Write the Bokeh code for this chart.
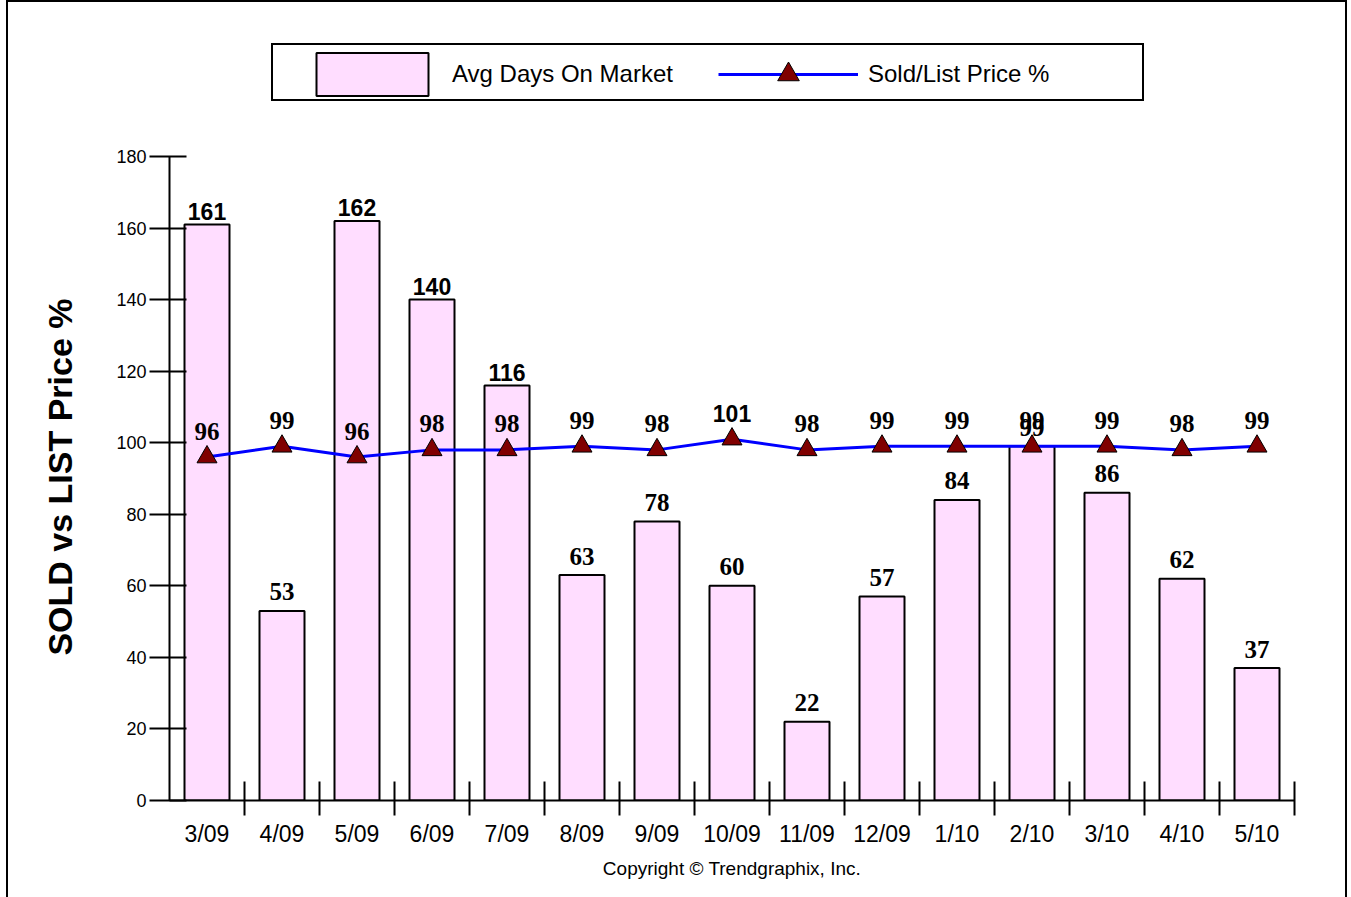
from bokeh.plotting import figure
from bokeh.models import (Range1d, FixedTicker, ColumnDataSource, Legend,
                          LegendItem, Title)
from bokeh.embed import file_html
from bokeh.resources import INLINE

months = ["3/09", "4/09", "5/09", "6/09", "7/09", "8/09", "9/09", "10/09",
          "11/09", "12/09", "1/10", "2/10", "3/10", "4/10", "5/10"]
avg_days = [161, 53, 162, 140, 116, 63, 78, 60, 22, 57, 84, 99, 86, 62, 37]
sold_list_pct = [96, 99, 96, 98, 98, 99, 98, 101, 98, 99, 99, 99, 99, 98, 99]
y_ticks = [0, 20, 40, 60, 80, 100, 120, 140, 160, 180]

n = len(months)
centers = [i + 0.5 for i in range(n)]
bounds = [i + 1 for i in range(n)]

PX_PER_UNIT = 644 / 180.0
FRAME_H = 798
Y_TOP = FRAME_H / PX_PER_UNIT

def fonts(vals):
    return ["Liberation Sans" if len(str(v)) > 2 else "Liberation Serif" for v in vals]

def sizes(vals):
    return ["23px" if len(str(v)) > 2 else "25px" for v in vals]

bar_src = ColumnDataSource(dict(x=centers, top=avg_days,
                                lab=[str(v) for v in avg_days],
                                font=fonts(avg_days), fs=sizes(avg_days),
                                yo=[-13 if len(str(v)) > 2 else -19 for v in avg_days]))
line_src = ColumnDataSource(dict(x=centers, y=sold_list_pct,
                                 lab=[str(v) for v in sold_list_pct],
                                 font=fonts(sold_list_pct), fs=sizes(sold_list_pct)))

p = figure(frame_width=1125, frame_height=FRAME_H,
           min_border_left=161, min_border_right=51,
           min_border_top=0, min_border_bottom=97,
           x_range=Range1d(0, n), y_range=Range1d(0, Y_TOP),
           output_backend="svg", toolbar_location=None, tools="",
           styles={"margin-left": "6px", "border-left": "2px solid black",
                   "border-right": "2px solid black",
                   "border-top": "2px solid black"})
p.outline_line_color = None
p.grid.visible = False
p.background_fill_color = "white"
p.border_fill_color = "white"

bars = p.vbar(x="x", top="top", width=0.6, source=bar_src,
              fill_color="#FFDDFF", line_color="black", line_width=2)
ln = p.line(x="x", y="y", source=line_src, line_color="#0000FF", line_width=3)
tri = p.scatter(x="x", y="y", source=line_src, marker="triangle", size=20,
                fill_color="#800000", line_color="black", line_width=1)

p.text(x="x", y="top", text="lab", source=bar_src, text_align="center",
       text_baseline="alphabetic", y_offset="yo", text_font="font",
       text_font_size="fs", text_font_style="bold", text_color="black")
p.text(x="x", y="y", text="lab", source=line_src, text_align="center",
       text_baseline="alphabetic", y_offset=-26, text_font="font",
       text_font_size="fs", text_font_style="bold", text_color="black")

# x axis
xa = p.xaxis[0]
xa.ticker = FixedTicker(ticks=centers, minor_ticks=bounds)
xa.major_label_overrides = {c: m for c, m in zip(centers, months)}
xa.major_tick_line_color = None
xa.major_tick_in = 0
xa.major_tick_out = 15
xa.minor_tick_in = 19
xa.minor_tick_out = 15
xa.minor_tick_line_color = "black"
xa.minor_tick_line_width = 2
xa.axis_line_width = 2
xa.axis_line_color = "black"
xa.major_label_standoff = 5
xa.major_label_text_font = "Liberation Sans"
xa.major_label_text_font_size = "23px"
xa.major_label_text_color = "black"

# y axis
ya = p.yaxis[0]
ya.bounds = (0, 180)
ya.ticker = FixedTicker(ticks=y_ticks)
ya.major_tick_in = 17
ya.major_tick_out = 20
ya.major_tick_line_width = 2
ya.minor_tick_line_color = None
ya.axis_line_width = 2
ya.axis_line_color = "black"
ya.major_label_standoff = 3
ya.major_label_text_font = "Liberation Sans"
ya.major_label_text_font_size = "18px"
ya.major_label_text_color = "black"
# trailing no-break spaces keep the label centred on the 0-180 part of the axis
ya.axis_label = "SOLD vs LIST Price %" + "\u00a0" * 16
ya.axis_label_text_font = "Liberation Sans"
ya.axis_label_text_font_size = "34px"
ya.axis_label_text_font_style = "bold"
ya.axis_label_text_color = "black"
ya.axis_label_standoff = 34

# invisible renderer used only for the legend frame
ghost = p.scatter(x=[], y=[], fill_alpha=0, line_alpha=0)

box = Legend(items=[LegendItem(label=" ", renderers=[ghost])],
             location=(102, 699), glyph_width=869, glyph_height=54,
             padding=0, margin=0, label_standoff=0, label_width=0,
             label_height=0, label_text_font_size="1px",
             border_line_color="black", border_line_width=2,
             border_line_alpha=1,
             background_fill_color="white", background_fill_alpha=1)
p.add_layout(box, "center")

leg = Legend(items=[LegendItem(label="Avg Days On Market", renderers=[bars]),
                    LegendItem(label="Sold/List Price %", renderers=[ln, tri])],
             orientation="horizontal", location=(133, 699),
             glyph_width=140, glyph_height=54, padding=0, margin=0,
             label_standoff=10, label_width=226, spacing=40,
             label_text_font="Liberation Sans", label_text_font_size="24px",
             label_text_color="black",
             border_line_color=None, background_fill_alpha=0)
p.add_layout(leg, "center")

p.add_layout(Title(text="Copyright \u00a9 Trendgraphix, Inc.", align="center",
                   text_font="Liberation Sans", text_font_size="19px",
                   text_font_style="normal", text_color="black", standoff=12),
             "below")

open("out.html", "w").write(file_html(p, INLINE))
